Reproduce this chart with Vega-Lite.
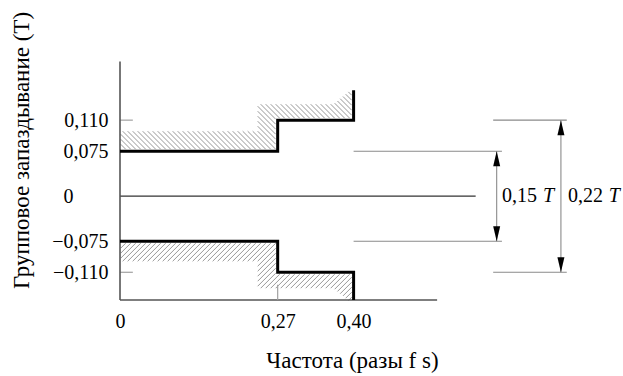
{
  "$schema": "https://vega.github.io/schema/vega-lite/v6.json",
  "width": 503,
  "height": 260,
  "autosize": {"type": "none"},
  "padding": {"left": 120, "top": 40, "right": 0, "bottom": 76},
  "background": "white",
  "config": {"view": {"stroke": null}, "font": "'Liberation Serif', 'Times New Roman', serif"},
  "datasets": {
    "steps": [
      {"g": "up", "i": 0, "x": 0, "y": 0.075},
      {"g": "up", "i": 1, "x": 0.27, "y": 0.075},
      {"g": "up", "i": 2, "x": 0.27, "y": 0.11},
      {"g": "up", "i": 3, "x": 0.4, "y": 0.11},
      {"g": "up", "i": 4, "x": 0.4, "y": 0.14},
      {"g": "down", "i": 0, "x": 0, "y": -0.075},
      {"g": "down", "i": 1, "x": 0.27, "y": -0.075},
      {"g": "down", "i": 2, "x": 0.27, "y": -0.11},
      {"g": "down", "i": 3, "x": 0.4, "y": -0.11},
      {"g": "down", "i": 4, "x": 0.4, "y": -0.138}
    ],
    "hatch": [
      {"g": "up", "x": 0.27, "y": 0.075},
      {"g": "down", "x": 0.27, "y": -0.075}
    ],
    "hrules": [
      {"kind": "axis", "x": 0, "x2": 0.543, "y": -0.138},
      {"kind": "zero", "x": 0, "x2": 0.609, "y": 0},
      {"kind": "tick", "x": 0, "x2": 0.022, "y": 0.11},
      {"kind": "tick", "x": 0, "x2": 0.022, "y": -0.11},
      {"kind": "dim", "x": 0.4, "x2": 0.654, "y": 0.075},
      {"kind": "dim", "x": 0.4, "x2": 0.654, "y": -0.075},
      {"kind": "dim", "x": 0.639, "x2": 0.765, "y": 0.11},
      {"kind": "dim", "x": 0.639, "x2": 0.765, "y": -0.11}
    ],
    "vrules": [
      {"kind": "axis", "x": 0, "y": -0.138, "y2": 0.167},
      {"kind": "tick", "x": 0.27, "y": -0.138, "y2": -0.123},
      {"kind": "dim", "x": 0.645, "y": -0.075, "y2": 0.075},
      {"kind": "dim", "x": 0.755, "y": -0.11, "y2": 0.11}
    ],
    "arrows": [
      {"dir": "up", "x": 0.645, "y": 0.075},
      {"dir": "down", "x": 0.645, "y": -0.075},
      {"dir": "up", "x": 0.755, "y": 0.11},
      {"dir": "down", "x": 0.755, "y": -0.11}
    ],
    "labels": [
      {"x": 0.654, "y": 0, "text": "0,15"},
      {"x": 0.767, "y": 0, "text": "0,22"}
    ],
    "italic": [
      {"x": 0.7245, "y": 0, "text": "T"},
      {"x": 0.837, "y": 0, "text": "T"}
    ]
  },
  "encoding": {
    "x": {
      "field": "x", "type": "quantitative",
      "scale": {"domain": [0, 0.8613], "nice": false, "zero": false},
      "axis": {
        "values": [0, 0.27, 0.4],
        "labelExpr": "datum.value == 0 ? '0' : replace(format(datum.value, '.2f'), '.', ',')",
        "domain": false, "ticks": false, "grid": false,
        "labelPadding": 11, "labelFontSize": 20, "labelColor": "#000",
        "labelFlush": false, "labelOverlap": false,
        "title": "Частота (разы f s)",
        "titleFontSize": 23, "titleFontWeight": "normal", "titleColor": "#000",
        "titleX": 232, "titleY": 67, "titleBaseline": "alphabetic", "titleAlign": "center"
      }
    },
    "y": {
      "field": "y", "type": "quantitative",
      "scale": {"type": "pow", "exponent": 1.37, "domain": [-0.138, 0.186], "nice": false, "zero": false},
      "axis": null
    }
  },
  "resolve": {"axis": {"y": "independent"}},
  "layer": [
    {
      "data": {"name": "hatch"},
      "transform": [{"filter": "datum.g == 'up'"}],
      "mark": {
        "type": "point", "filled": false, "size": 4, "opacity": 1, "color": "#8c8c8c", "strokeWidth": 0.9,
        "shape": "M-20 -20L-2 -2M-25 -20L-7 -2M-30 -20L-12 -2M-35 -20L-17 -2M-40 -20L-22 -2M-45 -20L-27 -2M-50 -20L-32 -2M-55 -20L-37 -2M-60 -20L-42 -2M-65 -20L-47 -2M-70 -20L-52 -2M-75 -20L-57 -2M-80 -20L-62 -2M-85 -20L-67 -2M-90 -20L-72 -2M-95 -20L-77 -2M-100 -20L-82 -2M-105 -20L-87 -2M-110 -20L-92 -2M-115 -20L-97 -2M-120 -20L-102 -2M-125 -20L-107 -2M-130 -20L-112 -2M-135 -20L-117 -2M-140 -20L-122 -2M-145 -20L-127 -2M-150 -20L-132 -2M-155 -20L-137 -2M-157 -17L-142 -2M-157 -12L-147 -2M-157 -7L-152 -2M-20 -25L-2 -7M-20 -30L-2 -12M-20 -35L-2 -17M-20 -40L-2 -22M-20 -45L-2 -27M-17 -47L-2 -32M-12 -47L2 -33M-7 -47L7 -33M-2 -47L12 -33M3 -47L17 -33M8 -47L22 -33M13 -47L27 -33M18 -47L32 -33M23 -47L37 -33M28 -47L42 -33M33 -47L47 -33M38 -47L52 -33M43 -47L57 -33M48 -47L62 -33M53 -47L67 -33M57 -48L72 -33M59.8 -50.2L74 -36M62.5 -52.5L74 -41M65.3 -54.7L74 -46M68 -57L74 -51M70.7 -59.3L74 -56"
      },
      "encoding": {
        "y": {
          "field": "y", "type": "quantitative",
          "scale": {"type": "pow", "exponent": 1.37, "domain": [-0.138, 0.186], "nice": false, "zero": false},
          "axis": {
            "values": [-0.11, -0.075, 0.075, 0.11],
            "labelExpr": "replace(format(datum.value, '.3f'), '.', ',')",
            "domain": false, "ticks": false, "grid": false, "orient": "left",
            "labelAlign": "right", "labelPadding": 12,
            "labelFontSize": 20, "labelColor": "#000",
            "labelOverlap": false,
            "title": "Групповое запаздывание (T)",
            "titleFontSize": 23, "titleFontWeight": "normal", "titleColor": "#000",
            "titleX": -92, "titleY": 110, "titleAngle": -90, "titleBaseline": "alphabetic", "titleAlign": "center"
          }
        }
      }
    },
    {
      "data": {"name": "hatch"},
      "transform": [{"filter": "datum.g == 'down'"}],
      "mark": {
        "type": "point", "filled": false, "size": 4, "opacity": 1, "color": "#8c8c8c", "strokeWidth": 0.9,
        "shape": "M-20 20L-2 2M-25 20L-7 2M-30 20L-12 2M-35 20L-17 2M-40 20L-22 2M-45 20L-27 2M-50 20L-32 2M-55 20L-37 2M-60 20L-42 2M-65 20L-47 2M-70 20L-52 2M-75 20L-57 2M-80 20L-62 2M-85 20L-67 2M-90 20L-72 2M-95 20L-77 2M-100 20L-82 2M-105 20L-87 2M-110 20L-92 2M-115 20L-97 2M-120 20L-102 2M-125 20L-107 2M-130 20L-112 2M-135 20L-117 2M-140 20L-122 2M-145 20L-127 2M-150 20L-132 2M-155 20L-137 2M-157 17L-142 2M-157 12L-147 2M-157 7L-152 2M-20 25L-2 7M-20 30L-2 12M-20 35L-2 17M-20 40L-2 22M-20 45L-2 27M-17 47L-2 32M-12 47L2 33M-7 47L7 33M-2 47L12 33M3 47L17 33M8 47L22 33M13 47L27 33M18 47L32 33M23 47L37 33M28 47L42 33M33 47L47 33M38 47L52 33M43 47L57 33M48 47L62 33M53 47L67 33M57 48L72 33M59.8 50.2L74 36M62.5 52.5L74 41M65.3 54.7L74 46M68 57L74 51M70.7 59.3L74 56"
      },
      "encoding": {
        "y": {
          "field": "y", "type": "quantitative",
          "scale": {"type": "pow", "exponent": 1.37, "domain": [-0.138, 0.186], "nice": false, "zero": false},
          "axis": {
            "values": [0],
            "labelExpr": "'0'",
            "domain": false, "ticks": false, "grid": false, "orient": "left",
            "labelAlign": "left", "labelPadding": 57,
            "labelFontSize": 20, "labelColor": "#000",
            "labelOverlap": false,
            "title": null
          }
        }
      }
    },
    {
      "data": {"name": "hrules"},
      "transform": [{"filter": "datum.kind == 'dim'"}],
      "mark": {"type": "rule", "color": "#8a8a8a", "strokeWidth": 1.1},
      "encoding": {"x2": {"field": "x2"}}
    },
    {
      "data": {"name": "hrules"},
      "transform": [{"filter": "datum.kind == 'tick'"}],
      "mark": {"type": "rule", "color": "#a0a0a0", "strokeWidth": 1.2},
      "encoding": {"x2": {"field": "x2"}}
    },
    {
      "data": {"name": "hrules"},
      "transform": [{"filter": "datum.kind == 'zero'"}],
      "mark": {"type": "rule", "color": "#333333", "strokeWidth": 1.3},
      "encoding": {"x2": {"field": "x2"}}
    },
    {
      "data": {"name": "hrules"},
      "transform": [{"filter": "datum.kind == 'axis'"}],
      "mark": {"type": "rule", "color": "#555555", "strokeWidth": 1.6},
      "encoding": {"x2": {"field": "x2"}}
    },
    {
      "data": {"name": "vrules"},
      "transform": [{"filter": "datum.kind == 'dim'"}],
      "mark": {"type": "rule", "color": "#8a8a8a", "strokeWidth": 1.1},
      "encoding": {"y2": {"field": "y2"}}
    },
    {
      "data": {"name": "vrules"},
      "transform": [{"filter": "datum.kind == 'tick'"}],
      "mark": {"type": "rule", "color": "#a0a0a0", "strokeWidth": 1.2},
      "encoding": {"y2": {"field": "y2"}}
    },
    {
      "data": {"name": "vrules"},
      "transform": [{"filter": "datum.kind == 'axis'"}],
      "mark": {"type": "rule", "color": "#555555", "strokeWidth": 1.6},
      "encoding": {"y2": {"field": "y2"}}
    },
    {
      "data": {"name": "steps"},
      "mark": {"type": "line", "color": "#000", "strokeWidth": 3, "strokeJoin": "miter"},
      "encoding": {
        "detail": {"field": "g"},
        "order": {"field": "i", "type": "quantitative"}
      }
    },
    {
      "data": {"name": "arrows"},
      "mark": {"type": "point", "filled": true, "size": 4, "opacity": 1, "color": "#000"},
      "encoding": {
        "shape": {
          "field": "dir", "type": "nominal", "legend": null,
          "scale": {"domain": ["up", "down"], "range": ["M0 0L-3.5 15L3.5 15Z", "M0 0L-3.5 -15L3.5 -15Z"]}
        }
      }
    },
    {
      "data": {"name": "labels"},
      "mark": {"type": "text", "align": "left", "baseline": "middle", "fontSize": 20, "color": "#000"},
      "encoding": {"text": {"field": "text"}}
    },
    {
      "data": {"name": "italic"},
      "mark": {"type": "text", "align": "left", "baseline": "middle", "fontSize": 20, "fontStyle": "italic", "color": "#000"},
      "encoding": {"text": {"field": "text"}}
    }
  ]
}
